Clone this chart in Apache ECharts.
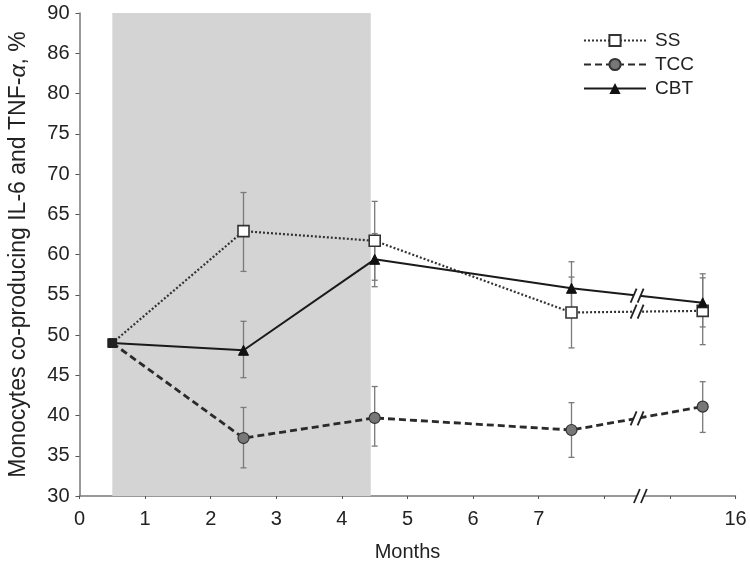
<!DOCTYPE html>
<html>
<head>
<meta charset="utf-8">
<script src="https://cdn.jsdelivr.net/npm/echarts@6/dist/echarts.min.js"></script>
<style>html,body{margin:0;padding:0;background:#fff}#c{width:750px;height:564px}</style>
</head>
<body>
<div id="c"></div>
<script>
// x positions (axis units; 10 is labelled "16" after the break)
var xPos = [0.5, 2.5, 4.5, 7.5, 9.5];
var xTickLabels = {0:'0',1:'1',2:'2',3:'3',4:'4',5:'5',6:'6',7:'7',10:'16'};
var yTickLabels = {30:'30',35:'35',40:'40',45:'45',50:'50',55:'55',60:'60',65:'65',70:'70',75:'75',80:'80',85:'86',90:'90'};

var ssValues  = [49.0, 62.9, 61.7, 52.8, 53.0];
var tccValues = [49.0, 37.2, 39.7, 38.2, 41.1];
var cbtValues = [49.0, 48.1, 59.4, 55.8, 54.0];

var ssLow   = [null, 57.9, 56.8, 48.4, 48.8];
var ssHigh  = [null, 67.7, 66.6, 57.2, 57.1];
var tccLow  = [null, 33.5, 36.2, 34.8, 37.9];
var tccHigh = [null, 41.0, 43.6, 41.6, 44.2];
var cbtLow  = [null, 44.7, 56.0, 52.5, 51.0];
var cbtHigh = [null, 51.7, 62.6, 59.1, 57.6];

var shadeRange = [0.5, 4.44];
var breakX = 8.5;

function pairs(vals){
  return vals.map(function(v,i){
    var d = {value:[xPos[i], v]};
    if(i===0){ d.symbol='rect'; d.symbolSize=8; d.itemStyle={color:'#222',borderColor:'#222'}; }
    return d;
  });
}
function errData(lo, hi){
  var out=[];
  for(var i=0;i<xPos.length;i++){ if(lo[i]!=null) out.push([xPos[i], lo[i], hi[i]]); }
  return out;
}
function interpAt(vals, x){
  for(var i=0;i<xPos.length-1;i++){
    if(x>=xPos[i] && x<=xPos[i+1]){
      var t=(x-xPos[i])/(xPos[i+1]-xPos[i]);
      return vals[i]+(vals[i+1]-vals[i])*t;
    }
  }
  return null;
}
var errAll = errData(ssLow, ssHigh).concat(errData(tccLow, tccHigh)).concat(errData(cbtLow, cbtHigh));
var breakData = [[breakX, interpAt(cbtValues, breakX)], [breakX, interpAt(ssValues, breakX)], [breakX, interpAt(tccValues, breakX)], [breakX+0.05, 30]];

var chart = echarts.init(document.getElementById('c'));
var FONT = 'Liberation Sans, Arial, sans-serif';
chart.setOption({
  animation:false,
  backgroundColor:'#fff',
  grid:{left:79.5, right:14.5, top:13, bottom:68, containLabel:false, outerBoundsMode:'none'},
  xAxis:{
    type:'value', min:0, max:10, interval:1,
    axisLine:{show:true, lineStyle:{color:'#777', width:1.5}},
    axisTick:{show:true, length:3, inside:false, lineStyle:{color:'#555', width:1}},
    splitLine:{show:false},
    axisLabel:{color:'#222', fontSize:20, fontFamily:FONT, margin:13,
      formatter:function(v){ return xTickLabels[v]!==undefined ? xTickLabels[v] : ''; }},
    name:'Months', nameLocation:'middle', nameGap:46,
    nameTextStyle:{color:'#222', fontSize:20, fontFamily:FONT}
  },
  yAxis:{
    type:'value', min:30, max:90, interval:5,
    axisLine:{show:true, lineStyle:{color:'#777', width:1.5}},
    axisTick:{show:true, length:4, lineStyle:{color:'#555', width:1}},
    splitLine:{show:false},
    axisLabel:{color:'#222', fontSize:20, fontFamily:FONT, margin:10,
      formatter:function(v){ return yTickLabels[v]!==undefined ? yTickLabels[v] : ''; }},
    name:'{a|Monocytes co-producing IL-6 and TNF-}{b|α}{a|, %}',
    nameLocation:'middle', nameGap:49, nameRotate:90,
    nameTextStyle:{rich:{a:{color:'#222', fontSize:23, fontFamily:FONT}, b:{color:'#222', fontSize:23, fontFamily:FONT, fontStyle:'italic'}}}
  },
  legend:{
    orient:'vertical', left:578, top:26, itemWidth:62, itemHeight:14, itemGap:5,
    textStyle:{color:'#222', fontSize:19, fontFamily:FONT, padding:[0,0,0,4]},
    data:['SS','TCC','CBT']
  },
  series:[
    {
      name:'shade', type:'line', data:[], silent:true, z:0,
      markArea:{silent:true, itemStyle:{color:'#d4d4d4'}, data:[[{xAxis:shadeRange[0]},{xAxis:shadeRange[1]}]]}
    },
    {
      name:'err', type:'custom', z:1, silent:true,
      data: errAll,
      renderItem:function(params, api){
        var p1=api.coord([api.value(0), api.value(1)]);
        var p2=api.coord([api.value(0), api.value(2)]);
        var w=3, st={stroke:'#7a7a7a', lineWidth:1.3};
        return {type:'group', children:[
          {type:'line', shape:{x1:p1[0],y1:p1[1],x2:p2[0],y2:p2[1]}, style:st},
          {type:'line', shape:{x1:p1[0]-w,y1:p1[1],x2:p1[0]+w,y2:p1[1]}, style:st},
          {type:'line', shape:{x1:p2[0]-w,y1:p2[1],x2:p2[0]+w,y2:p2[1]}, style:st}
        ]};
      }
    },
    {
      name:'SS', type:'line', z:3, data:pairs(ssValues),
      symbol:'rect', symbolSize:11,
      lineStyle:{color:'#333', width:2.2, type:[2,2]},
      itemStyle:{color:'#fff', borderColor:'#333', borderWidth:1.6}
    },
    {
      name:'TCC', type:'line', z:3, data:pairs(tccValues),
      symbol:'circle', symbolSize:11,
      lineStyle:{color:'#2a2a2a', width:2.8, type:[7,4]},
      itemStyle:{color:'#777', borderColor:'#333', borderWidth:1.2}
    },
    {
      name:'CBT', type:'line', z:3, data:pairs(cbtValues),
      symbol:'triangle', symbolSize:10,
      lineStyle:{color:'#1a1a1a', width:2},
      itemStyle:{color:'#111', borderColor:'#111'}
    },
    {
      name:'breaks', type:'custom', z:5, silent:true, clip:false,
      data: breakData,
      renderItem:function(params, api){
        var c=api.coord([api.value(0), api.value(1)]);
        var h=7, s=3, g=3.5;
        var st={stroke:'#222', lineWidth:1.8};
        return {type:'group', children:[
          {type:'polygon', shape:{points:[[c[0]-g+s,c[1]-h],[c[0]+g+s,c[1]-h],[c[0]+g-s,c[1]+h],[c[0]-g-s,c[1]+h]]}, style:{fill:'#fff'}},
          {type:'line', shape:{x1:c[0]-g-s,y1:c[1]+h,x2:c[0]-g+s,y2:c[1]-h}, style:st},
          {type:'line', shape:{x1:c[0]+g-s,y1:c[1]+h,x2:c[0]+g+s,y2:c[1]-h}, style:st}
        ]};
      }
    }
  ]
});
</script>
</body>
</html>
